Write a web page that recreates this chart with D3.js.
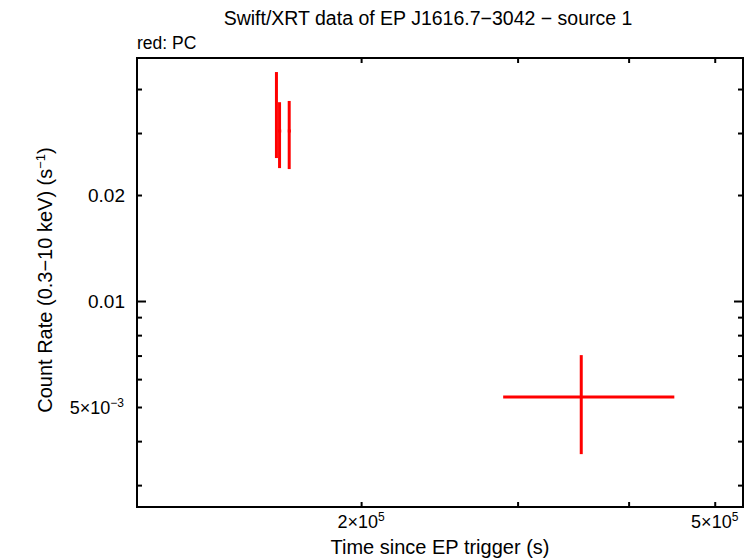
<!DOCTYPE html>
<html>
<head>
<meta charset="utf-8">
<script src="https://cdn.jsdelivr.net/npm/d3@7"></script>
<style>
  body { margin: 0; background: #fff; }
  text { font-family: "Liberation Sans", Arial, sans-serif; fill: #000; }
</style>
</head>
<body>
<div id="chart"></div>
<script>
//----------------------------------------------------------------
// données
var temps    = [1.606e5, 1.619e5, 1.660e5, 3.538e5];
var tempsMin = [1.604e5, 1.613e5, 1.654e5, 2.890e5];
var tempsMax = [1.608e5, 1.626e5, 1.667e5, 4.503e5];
var taux     = [0.0340, 0.0304, 0.0304, 5.335e-3];
var tauxMin  = [0.02547, 0.02385, 0.0237, 3.674e-3];
var tauxMax  = [0.0447, 0.0367, 0.0370, 7.02e-3];

var ticksX   = [2e5, 3e5, 4e5, 5e5];
var labelsX  = { 2e5: ["2×10", "5"], 5e5: ["5×10", "5"] };
var ticksYmin = [3e-3, 4e-3, 5e-3, 6e-3, 7e-3, 8e-3, 9e-3, 0.02, 0.03, 0.04];
var ticksYmaj = [0.01];
var labelsY  = [[0.02, "0.02"], [0.01, "0.01"]];

//----------------------------------------------------------------
// svg et échelles
var largeur = 754, hauteur = 558;
var marge = { gauche: 137, droite: 743, haut: 58, bas: 507 };

var svg = d3.select("#chart")
  .append("svg")
  .attr("width", largeur)
  .attr("height", hauteur);

var x = d3.scaleLog()
  .domain([1.119e5, 5.38e5])
  .range([marge.gauche, marge.droite]);
var y = d3.scaleLog()
  .domain([2.6e-3, 0.049])
  .range([marge.bas, marge.haut]);

//----------------------------------------------------------------
// axes (ticks vers l'intérieur, sur les 4 côtés)
function axe(gen, transl, ticks, taille) {
  var g = svg.append("g")
    .attr("transform", transl)
    .call(gen.tickValues(ticks).tickSize(taille).tickFormat(""));
  g.select(".domain").remove();
  g.selectAll("line").attr("stroke", "#000").attr("stroke-width", 2);
}
axe(d3.axisBottom(x), "translate(0," + marge.bas + ")", ticksX, -5);
axe(d3.axisTop(x), "translate(0," + marge.haut + ")", ticksX, -5);
axe(d3.axisLeft(y), "translate(" + marge.gauche + ",0)", ticksYmin, -5);
axe(d3.axisLeft(y), "translate(" + marge.gauche + ",0)", ticksYmaj, -9);
axe(d3.axisRight(y), "translate(" + marge.droite + ",0)", ticksYmin, -5);
axe(d3.axisRight(y), "translate(" + marge.droite + ",0)", ticksYmaj, -9);

svg.append("rect")
  .attr("x", marge.gauche)
  .attr("y", marge.haut)
  .attr("width", marge.droite - marge.gauche)
  .attr("height", marge.bas - marge.haut)
  .attr("fill", "none")
  .attr("stroke", "#000")
  .attr("stroke-width", 2);

//----------------------------------------------------------------
// labels des ticks
ticksX.forEach(function(t) {
  if (!labelsX[t]) return;
  var txt = svg.append("text")
    .attr("x", x(t))
    .attr("y", 528)
    .attr("text-anchor", "middle")
    .attr("font-size", "18px");
  txt.append("tspan").text(labelsX[t][0]);
  txt.append("tspan").attr("dy", -7).attr("font-size", "12px").text(labelsX[t][1]);
});

labelsY.forEach(function(d) {
  svg.append("text")
    .attr("x", 125)
    .attr("y", y(d[0]) + 7)
    .attr("text-anchor", "end")
    .attr("font-size", "19px")
    .text(d[1]);
});
var t5 = svg.append("text")
  .attr("x", 124)
  .attr("y", y(5e-3) + 7)
  .attr("text-anchor", "end")
  .attr("font-size", "18px");
t5.append("tspan").text("5×10");
t5.append("tspan").attr("dy", -7).attr("font-size", "12px").text("−3");

//----------------------------------------------------------------
// titres
svg.append("text")
  .attr("x", 428).attr("y", 25)
  .attr("text-anchor", "middle")
  .attr("font-size", "19.5px")
  .text("Swift/XRT data of EP J1616.7−3042 − source 1");
svg.append("text")
  .attr("x", 137).attr("y", 49)
  .attr("font-size", "17.5px")
  .text("red: PC");
svg.append("text")
  .attr("x", 440).attr("y", 554)
  .attr("text-anchor", "middle")
  .attr("font-size", "20px")
  .text("Time since EP trigger (s)");
var ty = svg.append("text")
  .attr("transform", "translate(52,280) rotate(-90)")
  .attr("text-anchor", "middle")
  .attr("font-size", "20px");
ty.append("tspan").text("Count Rate (0.3−10 keV) (s");
ty.append("tspan").attr("dy", -7).attr("font-size", "13px").text("−1");
ty.append("tspan").attr("dy", 7).text(")");

//----------------------------------------------------------------
// barres d'erreur
var pts = temps.map(function(t, i) {
  return { t: t, t0: tempsMin[i], t1: tempsMax[i], r: taux[i], r0: tauxMin[i], r1: tauxMax[i] };
});
var gp = svg.append("g").attr("stroke", "#ff0000").attr("stroke-width", 3);
gp.selectAll(".verticale")
  .data(pts).enter()
  .append("line")
  .attr("x1", function(d) { return x(d.t); })
  .attr("x2", function(d) { return x(d.t); })
  .attr("y1", function(d) { return y(d.r0); })
  .attr("y2", function(d) { return y(d.r1); });
gp.selectAll(".horizontale")
  .data(pts).enter()
  .append("line")
  .attr("x1", function(d) { return x(d.t0); })
  .attr("x2", function(d) { return x(d.t1); })
  .attr("y1", function(d) { return y(d.r); })
  .attr("y2", function(d) { return y(d.r); });
</script>
</body>
</html>
